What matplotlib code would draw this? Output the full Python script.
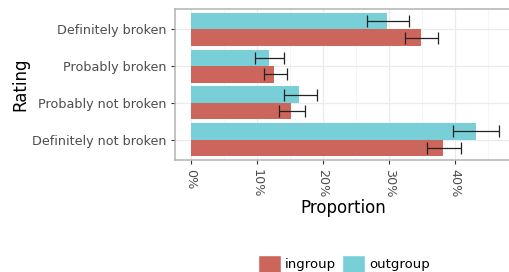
import numpy as np
import matplotlib.pyplot as plt
from matplotlib.patches import Patch
from matplotlib.ticker import FuncFormatter, MultipleLocator

# 数据
ratings = ["Definitely broken", "Probably broken", "Probably not broken", "Definitely not broken"]
groups = ["ingroup", "outgroup"]
ingroup = [34.8, 12.6, 15.15, 38.2]
ingroup_lo = [32.4, 11.1, 13.3, 35.8]
ingroup_hi = [37.4, 14.5, 17.2, 40.9]
outgroup = [29.6, 11.8, 16.4, 43.1]
outgroup_lo = [26.6, 9.75, 14.05, 39.6]
outgroup_hi = [33.0, 14.15, 19.1, 46.6]

C_IN = "#cc655b"
C_OUT = "#78cfd8"

fig = plt.figure(figsize=(5.1, 2.72), dpi=100)
ax = fig.add_axes([175.5 / 510, 1 - 160 / 272, (512 - 175.5) / 510, 151 / 272])

y = np.arange(len(ratings))[::-1].astype(float)
h = 0.45
vals = {"ingroup": (ingroup, ingroup_lo, ingroup_hi, C_IN, -h / 2),
        "outgroup": (outgroup, outgroup_lo, outgroup_hi, C_OUT, h / 2)}
for g in groups:
    v, lo, hi, col, off = vals[g]
    v, lo, hi = np.array(v), np.array(lo), np.array(hi)
    ax.barh(y + off, v, height=h, color=col, zorder=2)
    ax.errorbar(v, y + off, xerr=[v - lo, hi - v], fmt="none", ecolor="#222222",
                elinewidth=0.9, capsize=4, capthick=0.9, zorder=3)

ax.set_xlim(-2.35, 48.6)
ax.set_ylim(-0.55, 3.55)
ax.set_yticks(y)
ax.set_yticklabels(ratings)
ax.xaxis.set_major_locator(MultipleLocator(10))
ax.xaxis.set_minor_locator(MultipleLocator(5))
ax.set_xticks([0, 10, 20, 30, 40])
ax.xaxis.set_major_formatter(FuncFormatter(lambda x, p: f"{x:.0f}%"))
ax.grid(True, which="major", color="#ebebeb", linewidth=0.9, zorder=0)
ax.grid(True, which="minor", axis="x", color="#f4f4f4", linewidth=0.6, zorder=0)
ax.set_axisbelow(True)
for s in ax.spines.values():
    s.set_color("#b3b3b3")
    s.set_linewidth(1.1)
ax.tick_params(axis="both", which="major", colors="#333333", labelcolor="#4d4d4d",
               labelsize=9.2, length=3, width=0.8)
ax.tick_params(axis="x", which="minor", length=0)
plt.setp(ax.get_xticklabels(), rotation=-90)
ax.set_xlabel("Proportion", fontsize=12, labelpad=1)
ax.set_ylabel("Rating", fontsize=12, labelpad=2)

handles = [Patch(facecolor=C_IN, edgecolor="white", label="ingroup"),
           Patch(facecolor=C_OUT, edgecolor="white", label="outgroup")]
fig.legend(handles=handles, loc="upper center", bbox_to_anchor=(344 / 510, 1 - 250 / 272),
           ncol=2, frameon=False, fontsize=9.5, handlelength=1.7, handleheight=1.7,
           columnspacing=0.5, handletextpad=0.3, borderaxespad=0)

fig.savefig("out.png", dpi=100)
